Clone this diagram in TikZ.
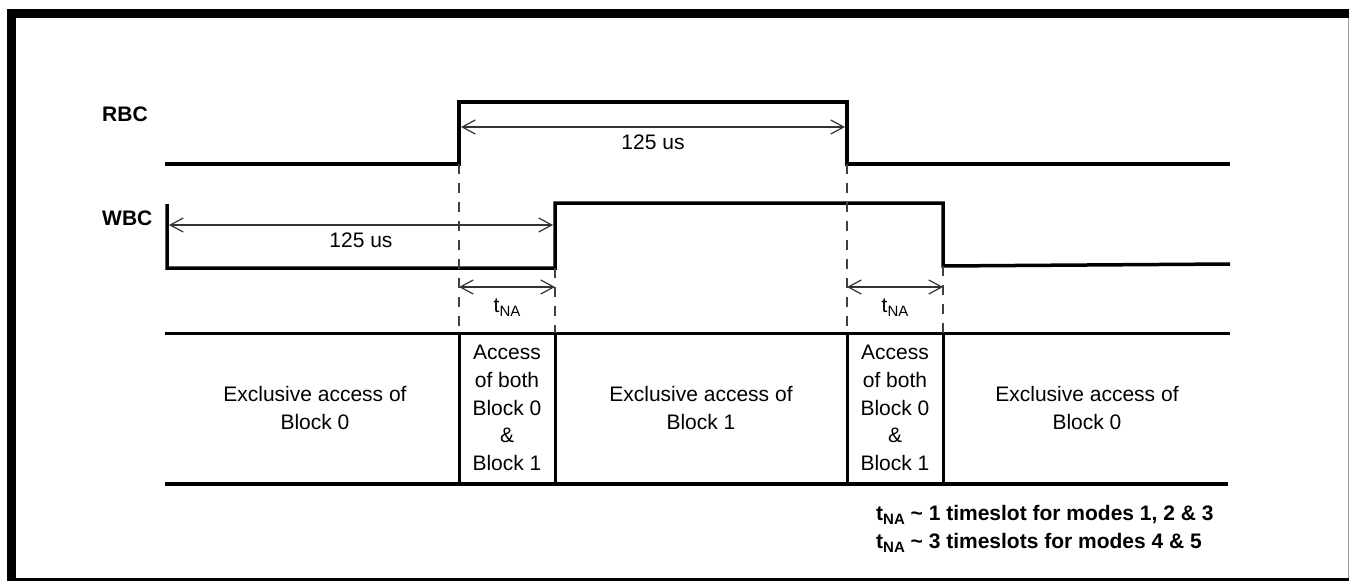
\documentclass[tikz,border=0pt]{standalone}
\usepackage{fontspec}
\setmainfont{Liberation Sans}
\usetikzlibrary{arrows.meta}
\newcommand{\tNA}{t\raisebox{-4pt}{\fontsize{15}{15}\selectfont NA}}
\begin{document}
\begin{tikzpicture}[x=1pt,y=-1pt,
  signal/.style={line width=3.5pt, line join=miter},
  dim/.style={line width=1.2pt, draw=black!80,
    {Straight Barb[length=13pt,width=14pt,line width=1.2pt]}-{Straight Barb[length=13pt,width=14pt,line width=1.2pt]}},
  guide/.style={line width=1.3pt, draw=black!75, dash pattern=on 10pt off 9pt},
  cellline/.style={line width=3pt},
  lbl/.style={font=\fontsize{21}{27.7}\selectfont, inner sep=0pt, align=center},
  sig/.style={font=\bfseries\fontsize{21}{25}\selectfont, inner sep=0pt, anchor=west},
  note/.style={font=\bfseries\fontsize{21}{25}\selectfont, inner sep=0pt, anchor=base west},
]
\useasboundingbox (0,0) rectangle (1350,581);
% frame
\fill (7,9) rectangle (1349,18);
\fill (7,9) rectangle (16,581);
\fill (7,578) rectangle (1349,581);
\draw[black!40, line width=1pt] (1348.5,18) -- (1348.5,578);

% signal labels
\node[sig] (rbc) at (102,114) {RBC};
\node[sig] (wbc) at (102,218) {WBC};

% RBC signal
\coordinate (r0) at (165,164);
\coordinate (r1) at (459,164);
\coordinate (r2) at (459,102);
\coordinate (r3) at (847,102);
\coordinate (r4) at (847,164);
\coordinate (r5) at (1230,164);
\draw[signal] (r0) -- (r1) -- (r2) -- (r3) -- (r4) -- (r5);

% WBC signal
\coordinate (w0) at (167,204);
\coordinate (w1) at (167,268);
\coordinate (w2) at (555,268);
\coordinate (w3) at (555,203);
\coordinate (w4) at (943,203);
\coordinate (w5) at (943,266);
\coordinate (w6) at (1230,264);
\draw[signal] (w0) -- (w1) -- (w2) -- (w3) -- (w4) -- (w5) -- (w6);

% table
\coordinate (tl) at (165,333);
\coordinate (tr) at (1230,333);
\coordinate (bl) at (165,484);
\coordinate (br) at (1228,484);
\draw[cellline] (tl) -- (tr);
\draw[line width=3.5pt] (bl) -- (br);
\foreach \x/\n in {459/a,555/b,847/c,943/d}{
  \coordinate (top\n) at (\x,333);
  \coordinate (bot\n) at (\x,484);
  \draw[cellline] (top\n) -- (bot\n);
}

% dashed guides
\draw[guide] (r1) -- (topa);
\draw[guide] (w2) -- (topb);
\draw[guide] (r4) -- (topc);
\draw[guide] (w5) -- (topd);

% dimension arrows
\coordinate (ra) at (461,127);
\coordinate (rb) at (845,127);
\draw[dim] (ra) -- (rb);
\node[lbl] (rlab) at (653,142) {125 us};

\coordinate (wa) at (169,225);
\coordinate (wb) at (553,225);
\draw[dim] (wa) -- (wb);
\node[lbl] (wlab) at (361,240) {125 us};

\coordinate (ta1) at (459,287);
\coordinate (tb1) at (555,287);
\draw[dim] (ta1) -- (tb1);
\node[lbl] (tna1) at (507,308) {\tNA};

\coordinate (ta2) at (847,287);
\coordinate (tb2) at (943,287);
\draw[dim] (ta2) -- (tb2);
\node[lbl] (tna2) at (895,308) {\tNA};

% cell texts
\node[lbl] (c1) at (315,408) {Exclusive access of\\Block 0};
\node[lbl] (c2) at (507,408) {Access\\of both\\Block 0\\\&\\Block 1};
\node[lbl] (c3) at (701,408) {Exclusive access of\\Block 1};
\node[lbl] (c4) at (895,408) {Access\\of both\\Block 0\\\&\\Block 1};
\node[lbl] (c5) at (1087,408) {Exclusive access of\\Block 0};

% notes
\node[note] (n1) at (876,520) {\tNA\ \char"7E\ 1 timeslot for modes 1, 2 \& 3};
\node[note] (n2) at (876,548) {\tNA\ \char"7E\ 3 timeslots for modes 4 \& 5};
\end{tikzpicture}
\end{document}
